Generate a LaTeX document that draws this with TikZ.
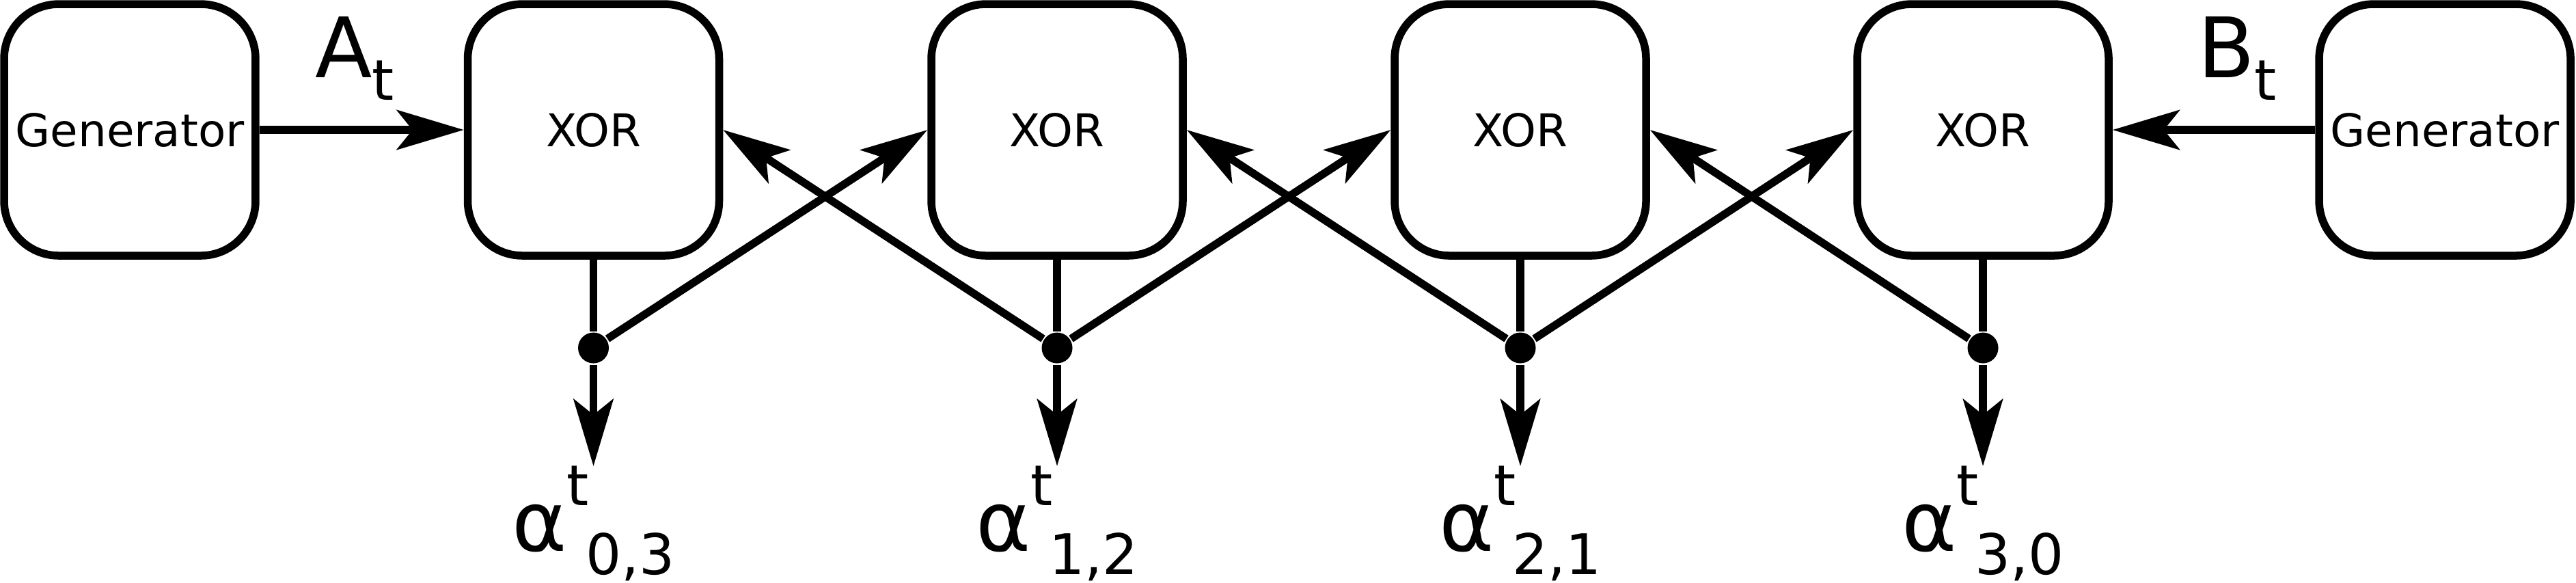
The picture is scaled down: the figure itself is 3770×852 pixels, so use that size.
\documentclass[tikz,border=0pt]{standalone}
\usepackage{fontspec}
\setmainfont{DejaVu Sans}
\usetikzlibrary{arrows.meta}
\newcommand\mysub[1]{\raisebox{-3.3pt}{\fontsize{8.2pt}{9pt}\selectfont #1}}
\newcommand\alsub[1]{\raisebox{-3.4pt}{\fontsize{8.2pt}{9pt}\selectfont #1}}
\newcommand\alsup[1]{\raisebox{6.7pt}{\fontsize{8.2pt}{9pt}\selectfont #1}}
\begin{document}
\begin{tikzpicture}[x=0.1pt,y=-0.1pt,
  box/.style={draw,line width=1.15pt,rounded corners=8pt,minimum width=36.8pt,minimum height=36.8pt,inner sep=0pt,font=\fontsize{6.6pt}{7pt}\selectfont},
  conn/.style={line width=1.15pt},
  arr/.style={conn,-{Stealth[length=9.8pt,width=5.8pt,inset=2.3pt]}},
  junction/.style={circle,fill,inner sep=0pt,minimum size=4.5pt},
  lab/.style={inner sep=0pt,anchor=base west,font=\fontsize{12.2pt}{14pt}\selectfont}]
\useasboundingbox (0,0) rectangle (3770,852);
% boxes
\node[box] (gl) at (190,190) {Generator};
\node[box] (x1) at (868.5,190) {XOR};
\node[box] (x2) at (1547,190) {XOR};
\node[box] (x3) at (2225,190) {XOR};
\node[box] (x4) at (2902,190) {XOR};
\node[box] (gr) at (3578,190) {Generator};
% junctions
\node[junction] (d1) at (868.5,509) {};
\node[junction] (d2) at (1547,509) {};
\node[junction] (d3) at (2225,509) {};
\node[junction] (d4) at (2902,509) {};
% outputs
\coordinate (o1) at (868.5,682);
\coordinate (o2) at (1547,682);
\coordinate (o3) at (2225,682);
\coordinate (o4) at (2902,682);
% generator inputs
\draw[arr] (gl) -- (x1);
\draw[arr] (gr) -- (x4);
\node[lab] (la) at (459,113) {A\mysub{t}};
\node[lab] (lb) at (3214,113) {B\mysub{t}};
% verticals
\foreach \i in {1,2,3,4}{
  \draw[conn] (x\i.south) -- (d\i);
  \draw[arr] (d\i) -- (o\i);
}
% diagonals
\draw[arr] (d1) -- (x2.west);
\draw[arr] (d2) -- (x1.east);
\draw[arr] (d2) -- (x3.west);
\draw[arr] (d3) -- (x2.east);
\draw[arr] (d3) -- (x4.west);
\draw[arr] (d4) -- (x3.east);
% labels
\node[lab] (a1) at (747.5,806) {α\alsup{t}\kern-0.5pt\alsub{0,3}};
\node[lab] (a2) at (1426,806) {α\alsup{t}\kern-0.5pt\alsub{1,2}};
\node[lab] (a3) at (2104,806) {α\alsup{t}\kern-0.5pt\alsub{2,1}};
\node[lab] (a4) at (2781,806) {α\alsup{t}\kern-0.5pt\alsub{3,0}};
\end{tikzpicture}
\end{document}
